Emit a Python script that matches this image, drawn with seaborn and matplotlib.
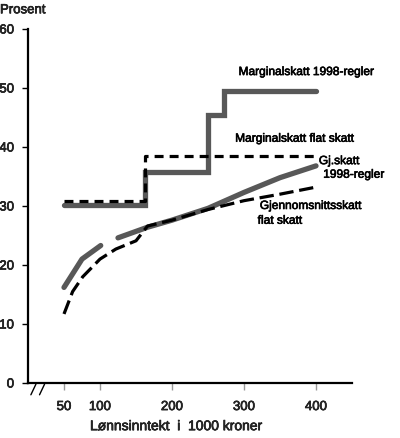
import numpy as np
import pandas as pd
import matplotlib
matplotlib.use("Agg")
import matplotlib.pyplot as plt
import matplotlib.patheffects as pe
import seaborn as sns

# Marginal tax, 1998 rules (step function)
marg98_x = [50, 162, 250, 272, 400]
marg98_y = [30.2, 35.8, 45.4, 49.5, 49.5]

# Marginal tax, flat tax (step function)
margflat_x = [50, 162, 400]
margflat_y = [30.8, 38.4, 38.4]

# Average tax, 1998 rules (two pieces, gap between)
avg98_x1 = [50, 75, 101]
avg98_y1 = [16.2, 21.0, 23.3]
avg98_x2 = [125, 166, 200, 250, 300, 350, 400]
avg98_y2 = [24.6, 26.4, 27.6, 29.6, 32.3, 34.8, 36.8]

# Average tax, flat tax
avgflat_x = [50, 62, 76, 100, 122, 150, 166, 200, 250, 300, 350, 400]
avgflat_y = [11.7, 15.5, 18.0, 21.0, 22.7, 24.1, 26.6, 27.6, 29.4, 30.9, 32.0, 33.2]

x_ticks = [50, 100, 200, 300, 400]
y_ticks = [0, 10, 20, 30, 40, 50, 60]

sns.set_style("ticks")
plt.rcParams['font.family'] = ['Liberation Sans', 'DejaVu Sans']

fig = plt.figure(figsize=(4.0, 4.39), dpi=100)
ax = fig.add_axes([0.07, 0.1253, 0.81, 0.8064])

grey = "#585858"
grey_lw = 3.8
black_lw = 2.3

sns.lineplot(x=marg98_x, y=marg98_y, ax=ax, color=grey, lw=grey_lw,
             drawstyle="steps-post", solid_capstyle="round", solid_joinstyle="miter")
sns.lineplot(x=margflat_x, y=margflat_y, ax=ax, color="black", lw=black_lw,
             drawstyle="steps-post", linestyle=(0, (2.8, 1.9)))
sns.lineplot(x=avg98_x1, y=avg98_y1, ax=ax, color=grey, lw=grey_lw, solid_capstyle="round")
sns.lineplot(x=avg98_x2, y=avg98_y2, ax=ax, color=grey, lw=grey_lw, solid_capstyle="round")
sns.lineplot(x=avgflat_x, y=avgflat_y, ax=ax, color="black", lw=black_lw,
             linestyle=(0, (4.5, 1.8)))

# slightly heavier text, like the original print
heavy = [pe.withStroke(linewidth=0.45, foreground="black")]

ax.set_xlim(0, 450)
ax.set_ylim(0, 60)
ax.set_xticks(x_ticks)
ax.set_yticks(y_ticks)
ax.set_xticklabels([str(v) for v in x_ticks], fontsize=9.5, path_effects=heavy)
ax.set_yticklabels([str(v) for v in y_ticks], fontsize=9.5, path_effects=heavy)
ax.tick_params(axis="x", length=5, width=1, color="#999999", pad=8)
ax.tick_params(axis="y", length=4, width=1, color="black", pad=6)
ax.set_xlabel("")
ax.set_ylabel("")
for side in ["top", "right"]:
    ax.spines[side].set_visible(False)
for side in ["left", "bottom"]:
    ax.spines[side].set_linewidth(1.6)
    ax.spines[side].set_color("black")

# axis break marks
for x0 in [4, 16]:
    ax.plot([x0, x0 + 7], [-2.0, -0.2], color="black", lw=1.0, clip_on=False)

txt = dict(fontsize=8.6, color="black", va="center", path_effects=heavy)
ax.text(386, 52.7, "Marginalskatt 1998-regler", ha="center", **txt)
ax.text(370, 41.4, "Marginalskatt flat skatt", ha="center", **txt)
ax.text(404, 37.6, "Gj.skatt", ha="left", **txt)
ax.text(410, 35.3, "1998-regler", ha="left", **txt)
ax.text(322, 30.0, "Gjennomsnittsskatt", ha="left", **txt)
ax.text(319, 27.5, "flat skatt", ha="left", **txt)

fig.text(0.0, 0.988, "Prosent", fontsize=9.5, ha="left", va="top", path_effects=heavy)
fig.text(0.225, 0.027, "Lønnsinntekt  i  1000 kroner", fontsize=10, ha="left", va="center",
         path_effects=heavy)

fig.savefig("out.png", dpi=100)
